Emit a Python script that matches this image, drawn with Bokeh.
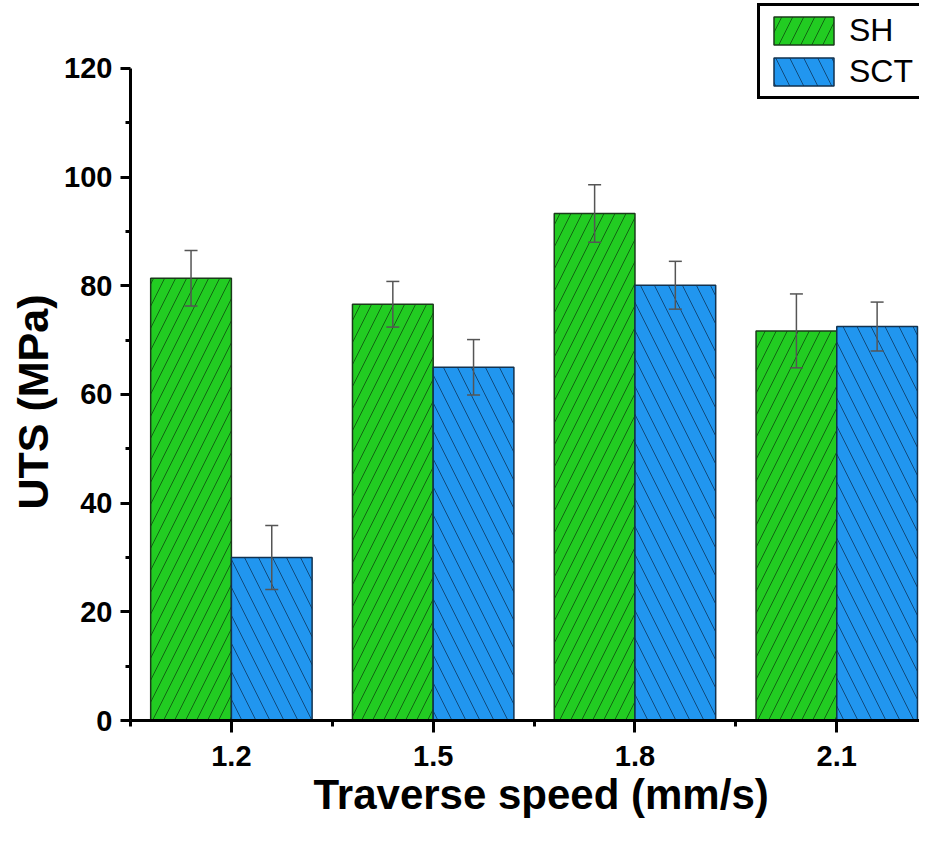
from bokeh.plotting import figure
from bokeh.models import ColumnDataSource, Whisker, TeeHead, FixedTicker, Legend, LegendItem, Range1d, Title
from bokeh.embed import file_html
from bokeh.resources import INLINE

categories = ["1.2", "1.5", "1.8", "2.1"]
sh_values = [81.4, 76.6, 93.3, 71.7]
sh_errors = [5.1, 4.2, 5.3, 6.8]
sct_values = [30.0, 65.0, 80.1, 72.5]
sct_errors = [5.9, 5.1, 4.4, 4.5]
y_ticks = [0, 20, 40, 60, 80, 100, 120]

idx = [i + 1 for i in range(len(categories))]
bar_w = 0.4
sh_src = ColumnDataSource(dict(
    x=[i - bar_w / 2 for i in idx], top=sh_values,
    upper=[v + e for v, e in zip(sh_values, sh_errors)],
    lower=[v - e for v, e in zip(sh_values, sh_errors)]))
sct_src = ColumnDataSource(dict(
    x=[i + bar_w / 2 for i in idx], top=sct_values,
    upper=[v + e for v, e in zip(sct_values, sct_errors)],
    lower=[v - e for v, e in zip(sct_values, sct_errors)]))

p = figure(width=919, height=826, output_backend="svg", toolbar_location=None,
           x_range=Range1d(0.5, 4.41), y_range=Range1d(0, 132.5),
           min_border_left=130, min_border_right=0, min_border_top=0, min_border_bottom=106)
p.outline_line_color = None
p.xgrid.grid_line_color = None
p.ygrid.grid_line_color = None
p.background_fill_color = "white"
p.border_fill_color = "white"

GREEN = "#22cc22"
BLUE = "#2196ef"

r_sh = p.vbar(x="x", top="top", bottom=0, width=bar_w, source=sh_src,
              fill_color=GREEN, line_color="#1b3a1b", line_width=1.5,
              hatch_pattern="/", hatch_scale=22, hatch_color="#0a3a0a",
              hatch_alpha=0.7, hatch_weight=1)
r_sct = p.vbar(x="x", top="top", bottom=0, width=bar_w, source=sct_src,
               fill_color=BLUE, line_color="#12324f", line_width=1.5,
               hatch_pattern="\\", hatch_scale=28, hatch_color="#0a2a4a",
               hatch_alpha=0.7, hatch_weight=1)

for src in (sh_src, sct_src):
    w = Whisker(source=src, base="x", upper="upper", lower="lower",
                line_color="#555555", line_width=1.5, level="annotation",
                upper_head=TeeHead(size=13, line_color="#555555", line_width=1.5),
                lower_head=TeeHead(size=13, line_color="#555555", line_width=1.5))
    p.add_layout(w)

font = "Liberation Sans"
# x axis
xa = p.xaxis[0]
xa.ticker = FixedTicker(ticks=idx, minor_ticks=[i - 0.5 for i in idx] + [idx[-1] + 0.5])
xa.major_label_overrides = {i: c for i, c in zip(idx, categories)}
# y axis
ya = p.yaxis[0]
ya.ticker = FixedTicker(ticks=y_ticks, minor_ticks=[t + 10 for t in y_ticks[:-1]])
ya.bounds = (0, 120)

for ax in (xa, ya):
    ax.axis_line_width = 3
    ax.axis_line_color = "black"
    ax.major_tick_line_width = 3
    ax.minor_tick_line_width = 3
    ax.major_tick_line_color = "black"
    ax.minor_tick_line_color = "black"
    ax.major_tick_in = 0
    ax.minor_tick_in = 0
    ax.major_label_text_font = font
    ax.major_label_text_font_style = "bold"
    ax.major_label_text_font_size = "29px"
    ax.major_label_text_color = "black"

xa.major_tick_out = 12
xa.minor_tick_out = 6
xa.major_label_standoff = 13
ya.major_tick_out = 10
ya.minor_tick_out = 5
ya.major_label_standoff = 8

ytitle = Title(text="UTS (MPa)", align="left", offset=211,
               text_font=font, text_font_style="bold", text_font_size="43px",
               text_color="black", standoff=10)
p.add_layout(ytitle, "left")

xtitle = Title(text="Traverse speed (mm/s)", align="left", offset=183,
               text_font=font, text_font_style="bold", text_font_size="42px",
               text_color="black", standoff=0)
p.add_layout(xtitle, "below")

legend = Legend(items=[LegendItem(label="SH", renderers=[r_sh]),
                       LegendItem(label="SCT", renderers=[r_sct])],
                location=(627, 621), orientation="vertical",
                glyph_width=75, glyph_height=35, label_standoff=8,
                label_text_font=font, label_text_font_size="32px",
                label_text_color="black", padding=6, spacing=4, margin=0,
                border_line_color="black", border_line_width=3, border_line_alpha=1.0,
                background_fill_color="white", background_fill_alpha=1)
p.add_layout(legend, "center")

open("out.html", "w").write(file_html(p, INLINE))
